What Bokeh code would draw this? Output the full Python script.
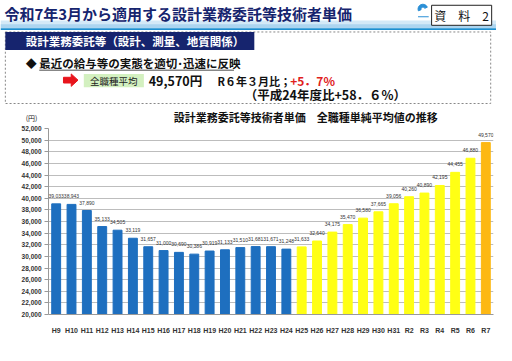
from bokeh.plotting import figure
from bokeh.models import (Range1d, FactorRange, ColumnDataSource, LabelSet, NumeralTickFormatter,
                          FixedTicker)
from bokeh.layouts import column
from bokeh.core.properties import value
from bokeh.embed import file_html
from bokeh.resources import INLINE

# ---------------- data ----------------
years = ["H9", "H10", "H11", "H12", "H13", "H14", "H15", "H16", "H17", "H18", "H19", "H20",
         "H21", "H22", "H23", "H24", "H25", "H26", "H27", "H28", "H29", "H30", "H31",
         "R2", "R3", "R4", "R5", "R6", "R7"]
wages = [39033, 38943, 37890, 35133, 34505, 33119, 31657, 31000, 30690, 30386, 30919, 31133,
         31510, 31681, 31671, 31248, 31633, 32640, 34175, 35470, 36580, 37665, 39056,
         40260, 40890, 42195, 44455, 46880, 49570]
periods = ["old"] * 16 + ["new"] * 12 + ["latest"]
y_ticks = list(range(20000, 52001, 2000))

title_text = "令和7年3月から適用する設計業務委託等技術者単価"
chart_title = "設計業務委託等技術者単価　全職種単純平均値の推移"

JP = "Noto Sans CJK JP"
NUM = "Liberation Sans"
NAVY = "#16246e"

W, H = 496, 345
sx, sy = W / 512.0, H / 361.0
HEAD_REF = 130
head_h = round(HEAD_REF * sy)
chart_h = H - head_h

# ---------------- header figure (reference pixel coordinates) ----------------
h = figure(width=W, height=head_h, x_range=Range1d(0, 512), y_range=Range1d(HEAD_REF, 0),
           output_backend="svg", toolbar_location=None, min_border=0,
           x_axis_location=None, y_axis_location=None)
h.frame_align = False
h.grid.visible = False
h.outline_line_color = None


def txt(x, y, s, size, color="#111111", bold=False, align="left"):
    h.text(x=[x], y=[y], text=[s], text_font=value(JP), text_font_size=size,
           text_font_style="bold" if bold else "normal", text_color=color,
           text_align=align, text_baseline="middle")


# title band
h.quad(left=0, right=512, top=21, bottom=29, fill_color="#d3e9f7", line_color=None)
h.quad(left=0, right=512, top=25, bottom=29, fill_color="#acd5f0", line_color=None)
h.quad(left=0, right=512, top=29, bottom=31, fill_color="#1d8fd0", line_color=None)
txt(4, 14, title_text, "15px", color=NAVY, bold=True)

# logo
h.annular_wedge(x=[436], y=[9], inner_radius=2, outer_radius=5, start_angle=0.4, end_angle=3.5,
                color="#2a8fd6")
h.quad(left=431, right=442, top=16.5, bottom=17.5, fill_color="#2a8fd6", line_color=None)

# 資料2 box
h.quad(left=445, right=507, top=5, bottom=26, fill_color="white", line_color="#222222", line_width=1)
txt(476, 15.5, "資　料　2", "12px", align="center")

# dotted box and navy heading
h.quad(left=5, right=506, top=33, bottom=108, fill_color=None, line_color="#888888",
       line_dash="2 2", line_width=1)
h.quad(left=5, right=262, top=33, bottom=52, fill_color=NAVY, line_color=None)
txt(26, 42.5, "設計業務委託等（設計、測量、地質関係）", "11.5px", color="white", bold=True)

txt(26, 65, "◆", "11px")
txt(40, 65, "最近の給与等の実態を適切･迅速に反映", "11.5px", bold=True)
h.quad(left=40, right=241, top=72.5, bottom=73.5, fill_color="#111111", line_color=None)

# red arrow
h.patch(x=[65, 73, 73, 80, 73, 73, 65], y=[80.5, 80.5, 77, 83.5, 90, 86.5, 86.5],
        fill_color="#e8141c", line_color="#e8141c")
# green label
h.quad(left=86, right=148, top=77, bottom=91, fill_color="#d3f0c0", line_color=None)
txt(117, 84, "全職種平均", "9.5px", color="#222222", align="center")
txt(153, 84, "49,570円", "12.5px", bold=True)
txt(224, 84, "R６年３月比；", "11px", bold=True)
txt(299, 84, "+5．7%", "12px", color="#e0201c", bold=True)
txt(252, 99, "（平成24年度比+58．６%）", "12.5px", bold=True)

# chart title and unit
txt(315, 122.5, chart_title, "11px", bold=True, align="center")
txt(32, 123, "(円)", "7px", color="#222222", align="center")

# ---------------- chart figure ----------------
# chart frame in reference-pixel coordinates
FL, FT, FB = 50, 134.5, 329
color_map = {"old": "#1e6fbf", "new": "#ffff14", "latest": "#fdb813"}
src = ColumnDataSource(dict(
    year=years, wage=wages,
    color=[color_map[pp] for pp in periods],
    label=[f"{v:,}" for v in wages],
))

p = figure(width=W, height=chart_h, x_range=FactorRange(*years), y_range=Range1d(20000, 52000),
           output_backend="svg", toolbar_location=None,
           min_border_left=round(FL * sx), min_border_right=3,
           min_border_top=round((FT - HEAD_REF) * sy), min_border_bottom=H - round(FB * sy))
p.frame_align = False
p.outline_line_color = None
p.vbar(x="year", top="wage", bottom=20000, width=0.58, color="color", source=src)
p.add_layout(LabelSet(x="year", y="wage", text="label", source=src, text_align="center",
                      y_offset=6, text_font=value(NUM), text_font_size="5px",
                      text_color="#333333", text_baseline="bottom"))

p.yaxis.ticker = FixedTicker(ticks=y_ticks)
p.yaxis.formatter = NumeralTickFormatter(format="0,0")
p.yaxis.major_label_text_font = NUM
p.yaxis.major_label_text_font_style = "bold"
p.yaxis.major_label_text_font_size = "6.5px"
p.yaxis.major_label_text_color = "#333333"
p.yaxis.axis_line_color = "#999999"
p.yaxis.major_tick_line_color = "#999999"
p.yaxis.major_tick_out = 4
p.yaxis.major_tick_in = 0
p.yaxis.minor_tick_line_color = None
p.yaxis.major_label_standoff = 3

p.xaxis.major_label_text_font = NUM
p.xaxis.major_label_text_font_style = "bold"
p.xaxis.major_label_text_font_size = "7px"
p.xaxis.major_label_text_color = "#333333"
p.xaxis.axis_line_color = "#999999"
p.xaxis.major_tick_line_color = None
p.xaxis.major_label_standoff = 6

p.xgrid.grid_line_color = None
p.ygrid.grid_line_color = "#bdbdbd"
p.ygrid.grid_line_width = 1

layout = column(h, p, spacing=0)
open("out.html", "w").write(file_html(layout, INLINE))
